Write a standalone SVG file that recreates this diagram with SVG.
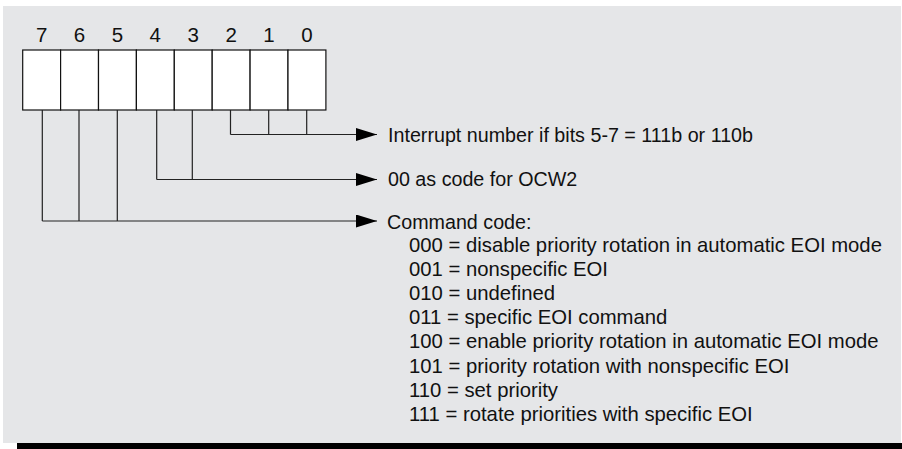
<svg xmlns="http://www.w3.org/2000/svg" width="902" height="449" viewBox="0 0 902 449">
<defs>
<style>
.t{font-family:"Liberation Sans",Arial,sans-serif;font-size:19.7px;fill:#111}
.l{font-family:"Liberation Sans",Arial,sans-serif;font-size:20.3px;fill:#111}
.d{font-family:"Liberation Sans",Arial,sans-serif;font-size:20.5px;fill:#111;text-anchor:middle}
.c{fill:#fff;stroke:#111;stroke-width:1.2}
.w{fill:none;stroke:#222;stroke-width:1.2}
</style>
<marker id="ah" markerWidth="21" markerHeight="13" refX="21" refY="6.5" orient="auto" markerUnits="userSpaceOnUse">
<polygon points="0,0 21,6.5 0,13" fill="#000"/>
</marker>
</defs>
<rect x="3" y="6" width="898" height="437" fill="#e5e6e8"/>
<rect x="17" y="443" width="885" height="6" fill="#000"/>
<g id="register">
<rect class="c" x="22.7" y="50" width="37.9" height="60"/>
<rect class="c" x="60.6" y="50" width="37.9" height="60"/>
<rect class="c" x="98.5" y="50" width="37.9" height="60"/>
<rect class="c" x="136.4" y="50" width="37.9" height="60"/>
<rect class="c" x="174.3" y="50" width="37.9" height="60"/>
<rect class="c" x="212.2" y="50" width="37.9" height="60"/>
<rect class="c" x="250.1" y="50" width="37.9" height="60"/>
<rect class="c" x="288" y="50" width="37.9" height="60"/>
<text class="d" x="41.6" y="42">7</text>
<text class="d" x="79.5" y="42">6</text>
<text class="d" x="117.4" y="42">5</text>
<text class="d" x="155.3" y="42">4</text>
<text class="d" x="193.2" y="42">3</text>
<text class="d" x="231.1" y="42">2</text>
<text class="d" x="269" y="42">1</text>
<text class="d" x="306.9" y="42">0</text>
</g>
<g id="connectors">
<path class="w" d="M230.5,110V134.5M268.7,110V134.5M306.7,110V134.5"/>
<path class="w" d="M230.5,134.5H377" marker-end="url(#ah)"/>
<path class="w" d="M156.7,110V179.5M192.3,110V179.5"/>
<path class="w" d="M156.7,179.5H377" marker-end="url(#ah)"/>
<path class="w" d="M42.3,110V221M79,110V221M117.3,110V221"/>
<path class="w" d="M42.3,221H377" marker-end="url(#ah)"/>
</g>
<g id="label-interrupt">
<text class="t" x="388" y="142">Interrupt number if bits 5-7 = 111b or 110b</text>
</g>
<g id="label-ocw2">
<text class="t" x="388" y="186">00 as code for OCW2</text>
</g>
<g id="label-command">
<text class="t" x="387" y="229">Command code:</text>
<text class="l" x="409" y="252">000 = disable priority rotation in automatic EOI mode</text>
<text class="l" x="409" y="276.1">001 = nonspecific EOI</text>
<text class="l" x="409" y="300.2">010 = undefined</text>
<text class="l" x="409" y="324.3">011 = specific EOI command</text>
<text class="l" x="409" y="348.4">100 = enable priority rotation in automatic EOI mode</text>
<text class="l" x="409" y="372.5">101 = priority rotation with nonspecific EOI</text>
<text class="l" x="409" y="396.6">110 = set priority</text>
<text class="l" x="409" y="420.7">111 = rotate priorities with specific EOI</text>
</g>
</svg>
